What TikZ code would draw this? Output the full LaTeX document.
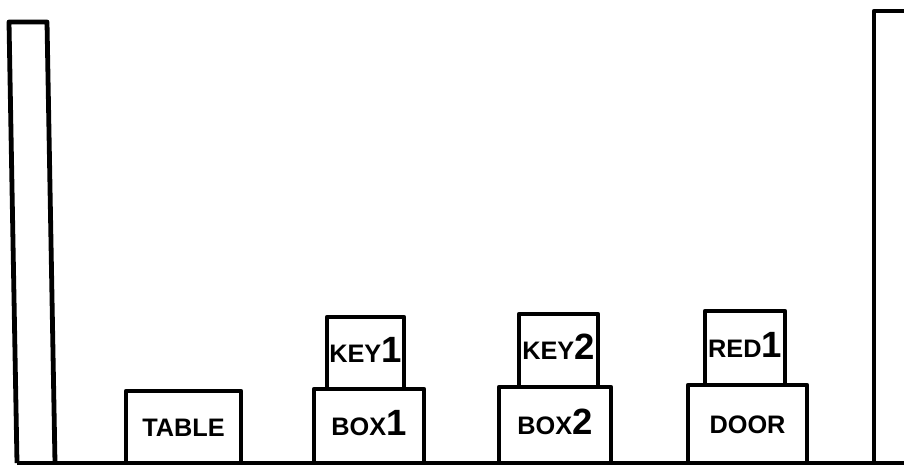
\documentclass[tikz,border=0pt]{standalone}
\usepackage{fontspec}
\setmainfont{Liberation Sans}
\newcommand{\bignum}[1]{{\fontsize{26}{26}\selectfont #1}}
\begin{document}
\begin{tikzpicture}[line width=0.12cm, line join=round,
  block/.style={draw, rectangle, inner sep=0pt, text height=13pt, text depth=0pt,
    font=\bfseries\fontsize{18}{18}\selectfont}]
\useasboundingbox (0,-0.075) rectangle (22.6,11.575);
% walls and floor
\coordinate (wl) at (0.425,0);
\coordinate (wr) at (22.7,0);
\draw (wl) -- (0.225,11.025) -- (1.175,11.025) -- (1.375,0);
\draw (21.85,0) -- (21.85,11.3) -- (22.7,11.3);
\draw (wl) -- (wr);
% objects on the floor
\node[block, minimum width=2.875cm, minimum height=1.8cm] (table) at (4.5875,0.9) {TABLE};
\node[block, minimum width=2.75cm, minimum height=1.85cm] (box1) at (9.225,0.925) {BOX\bignum{1}};
\node[block, minimum width=1.925cm, minimum height=1.8cm] (key1) at (9.1375,2.75) {KEY\bignum{1}};
\node[block, minimum width=2.8cm, minimum height=1.9cm] (box2) at (13.875,0.95) {BOX\bignum{2}};
\node[block, minimum width=1.975cm, minimum height=1.825cm] (key2) at (13.9625,2.8125) {KEY\bignum{2}};
\node[block, minimum width=2.975cm, minimum height=1.95cm] (door) at (18.6875,0.975) {DOOR};
\node[block, minimum width=2.0cm, minimum height=1.85cm] (red1) at (18.625,2.875) {RED\bignum{1}};
\end{tikzpicture}
\end{document}
